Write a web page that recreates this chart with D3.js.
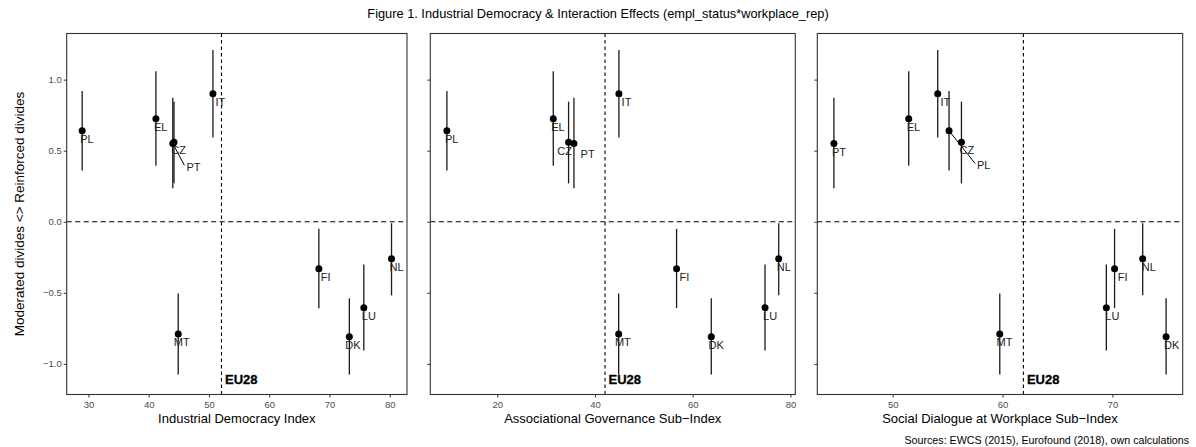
<!DOCTYPE html>
<html>
<head>
<meta charset="utf-8">
<script src="https://cdn.jsdelivr.net/npm/d3@7"></script>
<style>
	body { margin: 0; background: #fff; }
	text { font-family: "Liberation Sans", Arial, Helvetica, sans-serif; }
</style>
</head>
<body>
<div id="chart-area"></div>
<script>
// Countries and interaction effects (same model estimates in every panel)
const countries = ["PL", "EL", "CZ", "PT", "IT", "MT", "FI", "DK", "LU", "NL"];
const effect = [0.64, 0.725, 0.56, 0.55, 0.90, -0.79, -0.33, -0.81, -0.605, -0.26];
const ciLow = [0.36, 0.394, 0.27, 0.235, 0.592, -1.075, -0.608, -1.075, -0.906, -0.518];
const ciHigh = [0.92, 1.059, 0.845, 0.873, 1.209, -0.504, -0.05, -0.539, -0.30, -0.01];

// Index scores for each panel
const industrialDemocracy = [28.96, 41.2, 44.2, 44.0, 50.66, 44.9, 68.24, 73.3, 75.7, 80.3];
const associationalGov = [9.7, 31.47, 34.6, 35.7, 44.9, 44.85, 56.7, 63.8, 74.8, 77.6];
const socialDialogue = [55.13, 51.46, 56.26, 44.65, 54.1, 59.75, 70.2, 74.89, 69.45, 72.76];
const eu28Values = [52.08, 42.06, 61.9];
const eu28LabelY = -1.1;

const panelTitles = ["Industrial Democracy Index", "Associational Governance Sub\u2212Index", "Social Dialogue at Workplace Sub\u2212Index"];
const xTicks = [[30, 40, 50, 60, 70, 80], [20, 40, 60, 80], [50, 60, 70]];
const yTicks = [-1.0, -0.5, 0.0, 0.5, 1.0];

// SVG Size
let width = 1196,
	height = 447;

let svg = d3.select("#chart-area").append("svg")
	.attr("width", width)
	.attr("height", height);

// Panel placement
let plotTop = 33.5, plotBottom = 394.5;
let panels = [
	{left: 66.7, right: 407, xs: industrialDemocracy},
	{left: 430.3, right: 795.3, xs: associationalGov},
	{left: 817.3, right: 1182.7, xs: socialDialogue}
];

// label nudges (ggrepel placement)
let nudges = [
	{PT: {dx: 13.6, dy: 27.7, seg: true}, IT: {dx: 2.5}, FI: {dx: 2}, MT: {dx: -4.5}, DK: {dx: -4}, CZ: {dx: -2.7}},
	{CZ: {dx: -11.3, dy: 12.7}, PT: {dx: 6.6, dy: 14.3}, IT: {dx: 2.7}, FI: {dx: 3}, MT: {dx: -3.7}, DK: {dx: -2.7}},
	{PL: {dx: 28, dy: 38.6, seg: true}, IT: {dx: 2.7}, FI: {dx: 3.3}, MT: {dx: -3.3}, NL: {dx: -1}, LU: {dx: -1}}
];

// y scale shared, with ggplot-like 5% expansion
let yExt = d3.extent(ciLow.concat(ciHigh, [eu28LabelY]));
let yPad = (yExt[1] - yExt[0]) * 0.05;
let y = d3.scaleLinear()
	.domain([yExt[0] - yPad, yExt[1] + yPad])
	.range([plotBottom, plotTop]);

let data = countries.map((c, i) => ({country: c, effect: effect[i], low: ciLow[i], high: ciHigh[i]}));

panels.forEach((p, k) => {
	let xExt = d3.extent(p.xs);
	let xPad = (xExt[1] - xExt[0]) * 0.05;
	let x = d3.scaleLinear()
		.domain([xExt[0] - xPad, xExt[1] + xPad])
		.range([p.left, p.right]);

	let g = svg.append("g");

	// Axes
	let xAxis = d3.axisBottom(x).tickValues(xTicks[k]).tickSize(3).tickPadding(4).tickFormat(d3.format("d"));
	let gx = g.append("g")
		.attr("transform", "translate(0," + plotBottom + ")")
		.call(xAxis);

	let yAxis = d3.axisLeft(y).tickValues(yTicks).tickSize(3).tickPadding(2)
		.tickFormat(k === 0 ? d3.format(".1f") : "");
	let gy = g.append("g")
		.attr("transform", "translate(" + p.left + ",0)")
		.call(yAxis);

	[gx, gy].forEach(a => {
		a.select(".domain").remove();
		a.selectAll(".tick line").attr("stroke", "#333").attr("stroke-width", 1);
		a.selectAll(".tick text").attr("fill", "#4d4d4d").style("font-size", "9.5px");
	});

	// Reference lines
	g.append("line")
		.attr("x1", p.left).attr("x2", p.right)
		.attr("y1", y(0)).attr("y2", y(0))
		.attr("stroke", "#000").attr("stroke-width", 1.1)
		.attr("stroke-dasharray", "5,3.5");

	g.append("line")
		.attr("x1", x(eu28Values[k])).attr("x2", x(eu28Values[k]))
		.attr("y1", plotTop).attr("y2", plotBottom)
		.attr("stroke", "#000").attr("stroke-width", 1.1)
		.attr("stroke-dasharray", "3.5,3");

	g.append("text")
		.attr("x", x(eu28Values[k]) + 3.5)
		.attr("y", y(eu28LabelY) + 5.5)
		.attr("font-weight", "bold")
		.attr("stroke", "#000").attr("stroke-width", 0.3)
		.style("font-size", "13px")
		.text("EU28");

	// Error bars
	g.selectAll(".ci")
		.data(data)
		.enter()
		.append("line")
		.attr("x1", (d, i) => x(p.xs[i]))
		.attr("x2", (d, i) => x(p.xs[i]))
		.attr("y1", d => y(d.low))
		.attr("y2", d => y(d.high))
		.attr("stroke", "#1a1a1a")
		.attr("stroke-width", 1.3);

	// Label leader segments
	data.forEach((d, i) => {
		let n = nudges[k][d.country];
		if (n && n.seg) {
			g.append("line")
				.attr("x1", x(p.xs[i])).attr("y1", y(d.effect))
				.attr("x2", x(p.xs[i]) + n.dx - 2).attr("y2", y(d.effect) + n.dy - 6)
				.attr("stroke", "#000").attr("stroke-width", 1);
		}
	});

	// Points
	g.selectAll("circle")
		.data(data)
		.enter()
		.append("circle")
		.attr("cx", (d, i) => x(p.xs[i]))
		.attr("cy", d => y(d.effect))
		.attr("r", 3.5)
		.attr("fill", "#000");

	// Country labels
	g.selectAll(".lab")
		.data(data)
		.enter()
		.append("text")
		.attr("x", (d, i) => x(p.xs[i]) + ((nudges[k][d.country] || {}).dx ?? -2))
		.attr("y", d => y(d.effect) + ((nudges[k][d.country] || {}).dy ?? 12))
		.attr("fill", "#222")
		.style("font-size", "11px")
		.text(d => d.country);

	// Panel border
	g.append("rect")
		.attr("x", p.left).attr("y", plotTop)
		.attr("width", p.right - p.left).attr("height", plotBottom - plotTop)
		.attr("fill", "none")
		.attr("stroke", "#333")
		.attr("stroke-width", 1.1);

	// x-axis label
	g.append("text")
		.attr("x", (p.left + p.right) / 2)
		.attr("y", 422.7)
		.attr("text-anchor", "middle")
		.attr("fill", "#000")
		.style("font-size", "13px")
		.text(panelTitles[k]);
});

// y-axis label
svg.append("text")
	.attr("transform", "translate(24," + ((plotTop + plotBottom) / 2) + ") rotate(-90)")
	.attr("text-anchor", "middle")
	.style("font-size", "13.5px")
	.text("Moderated divides <> Reinforced divides");

// Title
svg.append("text")
	.attr("x", 598)
	.attr("y", 17.5)
	.attr("text-anchor", "middle")
	.style("font-size", "12.8px")
	.text("Figure 1. Industrial Democracy & Interaction Effects (empl_status*workplace_rep)");

// Caption
svg.append("text")
	.attr("x", 1189)
	.attr("y", 444)
	.attr("text-anchor", "end")
	.style("font-size", "10.7px")
	.text("Sources: EWCS (2015), Eurofound (2018), own calculations");
</script>
</body>
</html>
